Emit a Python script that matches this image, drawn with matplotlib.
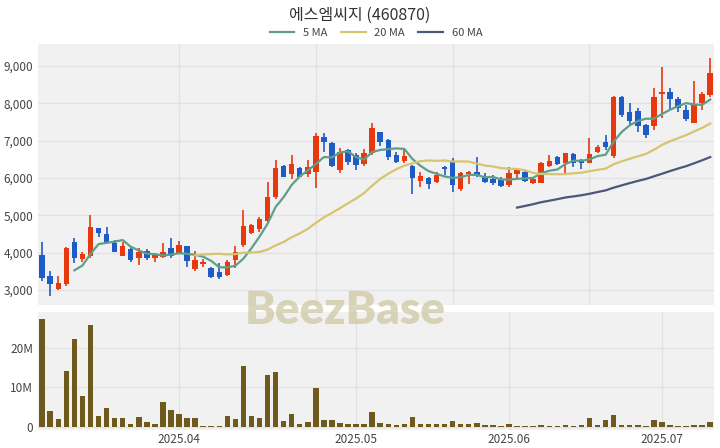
import numpy as np
import pandas as pd
import matplotlib
matplotlib.use('Agg')
import matplotlib.pyplot as plt

plt.rcParams['font.family'] = ['Noto Sans CJK KR', 'DejaVu Sans']

# 거래일 (주말, 휴장일 제외)
holidays = ['2025-05-01', '2025-05-05', '2025-05-06', '2025-06-03', '2025-06-06']
dates = pd.bdate_range('2025-03-07', '2025-07-09')
dates = dates[~dates.isin(pd.to_datetime(holidays))]

opens = [3937, 3375, 3027, 3160, 4285, 3830, 3910, 4660, 4500, 4258,
         3910, 4097, 3856, 4044, 3856, 3883, 4125, 3990, 4178, 3562,
         3700, 3590, 3490, 3400, 3800, 4205, 4525, 4633, 4855, 5490,
         6328, 6105, 6266, 6105, 6167, 7105, 6943, 6212, 6748, 6614,
         6373, 6675, 7240, 7015, 6614, 6462, 6320, 5930, 5990, 5900,
         6300, 6462, 5700, 6105, 6167, 6033, 5965, 5945, 5810, 6105,
         6167, 5855, 5870, 6320, 6570, 6400, 6640, 6480, 6400, 6700,
         6970, 6590, 8160, 7750, 7800, 7420, 7390, 8250, 8310, 8105,
         7820, 7480, 8000, 8220]
highs = [4285, 3510, 3375, 4150, 4390, 4017, 5008, 4660, 4686, 4340,
         4285, 4150, 4125, 4097, 3990, 4258, 4390, 4320, 4178, 4050,
         3830, 3625, 3720, 3800, 4185, 5140, 4766, 4955, 5900, 6480,
         6346, 6614, 6300, 6480, 7210, 7200, 6970, 6800, 6775, 6660,
         6766, 7480, 7240, 7034, 6703, 6766, 6346, 6167, 6033, 6167,
         6320, 6525, 6167, 6193, 6550, 6140, 6078, 6016, 6285, 6230,
         6212, 6016, 6435, 6614, 6590, 6675, 6660, 6500, 7060, 6880,
         7150, 8195, 8180, 8015, 7860, 7445, 8400, 8960, 8400, 8160,
         7950, 8580, 8285, 9200]
lows = [3240, 2840, 3000, 3110, 3720, 3750, 3856, 4420, 4258, 4017,
        3910, 3750, 3670, 3803, 3750, 3856, 3856, 3990, 3615, 3515,
        3615, 3320, 3300, 3375, 3590, 4160, 4500, 4560, 4830, 5436,
        6016, 5965, 6016, 6016, 5730, 6700, 6300, 6130, 6346, 6212,
        6320, 6614, 6855, 6480, 6390, 6390, 5570, 5770, 5695, 5870,
        6078, 5630, 5660, 5840, 6016, 5855, 5810, 5770, 5770, 5945,
        5900, 5840, 5855, 6300, 6346, 6120, 6300, 6230, 6400, 6660,
        6750, 6525, 7640, 7415, 7240, 7060, 7283, 7600, 7820, 7775,
        7530, 7460, 7820, 8175]
closes = [3321, 3150, 3187, 4125, 3856, 3963, 4686, 4525, 4285, 4017,
          4178, 3803, 4017, 3856, 3937, 4017, 3910, 4205, 3783, 3803,
          3760, 3350, 3356, 3760, 4025, 4713, 4740, 4900, 5490, 6266,
          6033, 6373, 6033, 6293, 7123, 6970, 6320, 6700, 6435, 6346,
          6660, 7330, 6970, 6552, 6435, 6590, 5990, 6053, 5840, 6078,
          6230, 5810, 6123, 6167, 6078, 5900, 5870, 5785, 6123, 6212,
          5930, 5965, 6390, 6462, 6373, 6660, 6410, 6390, 6640, 6820,
          6840, 8160, 7685, 7535, 7390, 7150, 8160, 8310, 8105, 7865,
          7570, 7980, 8250, 8817]
# 거래량 (백만 주)
volumes = [27.1, 4.1, 2.1, 14.2, 22.2, 7.8, 25.8, 2.7, 4.7, 2.35,
           2.35, 0.9, 2.5, 1.26, 0.67, 6.3, 4.3, 3.3, 2.2, 2.2,
           0.4, 0.4, 0.25, 2.9, 2.0, 15.4, 2.7, 2.3, 13.2, 13.9,
           1.6, 3.4, 0.75, 1.4, 9.9, 1.9, 1.7, 1.0, 0.75, 0.67,
           0.84, 3.9, 1.1, 0.85, 0.6, 0.85, 2.5, 0.75, 0.7, 0.7,
           0.7, 1.5, 0.7, 0.7, 1.1, 0.55, 0.45, 0.4, 0.85, 0.4,
           0.4, 0.4, 0.5, 0.4, 0.4, 0.6, 0.4, 0.45, 2.3, 0.6,
           1.7, 3.1, 0.6, 0.5, 0.5, 0.4, 1.85, 1.3, 0.5, 0.4,
           0.4, 0.6, 0.5, 1.3]

ma_windows = [5, 20, 60]
ma_colors = ['#5e9e8a', '#d6c46e', '#4d5777']

up_color = '#e8380d'
down_color = '#1f5bc6'
vol_color = '#6e5a1c'
bg = '#f1f1f1'

x = np.arange(len(closes))
o = np.array(opens)
h = np.array(highs)
l = np.array(lows)
c = np.array(closes)
colors = np.where(c >= o, up_color, down_color)

fig = plt.figure(figsize=(7.2, 4.48), dpi=100)
ax = fig.add_axes([0.053, 0.319, 0.939, 0.583])
axv = fig.add_axes([0.053, 0.040, 0.939, 0.264])

for a in (ax, axv):
    a.set_facecolor(bg)
    for s in a.spines.values():
        s.set_visible(False)
    a.tick_params(length=0, labelsize=8.5, colors='#444444')
    a.set_xlim(-0.5, len(x) - 0.5)
    a.set_axisbelow(True)

# 캔들
ax.vlines(x, l, h, colors=colors, linewidth=1.2, zorder=2)
body_h = np.abs(c - o)
body_h = np.maximum(body_h, 15)
ax.bar(x, body_h, bottom=np.minimum(o, c), width=0.68, color=colors, zorder=3)

# 이동평균선
s = pd.Series(closes)
for w, col in zip(ma_windows, ma_colors):
    ax.plot(x, s.rolling(w).mean(), color=col, linewidth=1.6, label=f'{w} MA', zorder=4)

ax.set_ylim(2598, 9585)
ax.set_yticks(range(3000, 10000, 1000))
ax.set_yticklabels([f'{v:,}' for v in range(3000, 10000, 1000)])
ax.set_xticks([17, 34, 51, 68])
ax.tick_params(axis='x', labelbottom=False)
ax.grid(True, color='#e2e2e2', linewidth=1)

# 거래량
axv.bar(x, volumes, width=0.68, color=vol_color, zorder=3)
axv.set_ylim(-0.75, 29.0)
axv.set_yticks([0, 10, 20])
axv.set_yticklabels(['0', '10M', '20M'])
month_idx = [i for i in range(1, len(dates)) if dates[i].month != dates[i - 1].month]
axv.set_xticks(month_idx)
axv.set_xticklabels([dates[i].strftime('%Y.%m') for i in month_idx])
axv.tick_params(axis='x', pad=2)
axv.grid(True, color='#e2e2e2', linewidth=1)

fig.text(0.479, 0.308, 'BeezBase', fontsize=33, fontweight='heavy', color='#cfc7a2',
         alpha=0.75, ha='center', va='center', zorder=10, family='Lato')

fig.suptitle('에스엠씨지 (460870)', y=0.985, fontsize=11.5, color='#333333')
ax.legend(loc='lower center', bbox_to_anchor=(0.5, 1.0), ncol=3, frameon=False,
          fontsize=8, handlelength=2.2, columnspacing=1.2, borderaxespad=0.1,
          labelcolor='#444444')

fig.savefig('out.png', dpi=100, facecolor='white')
